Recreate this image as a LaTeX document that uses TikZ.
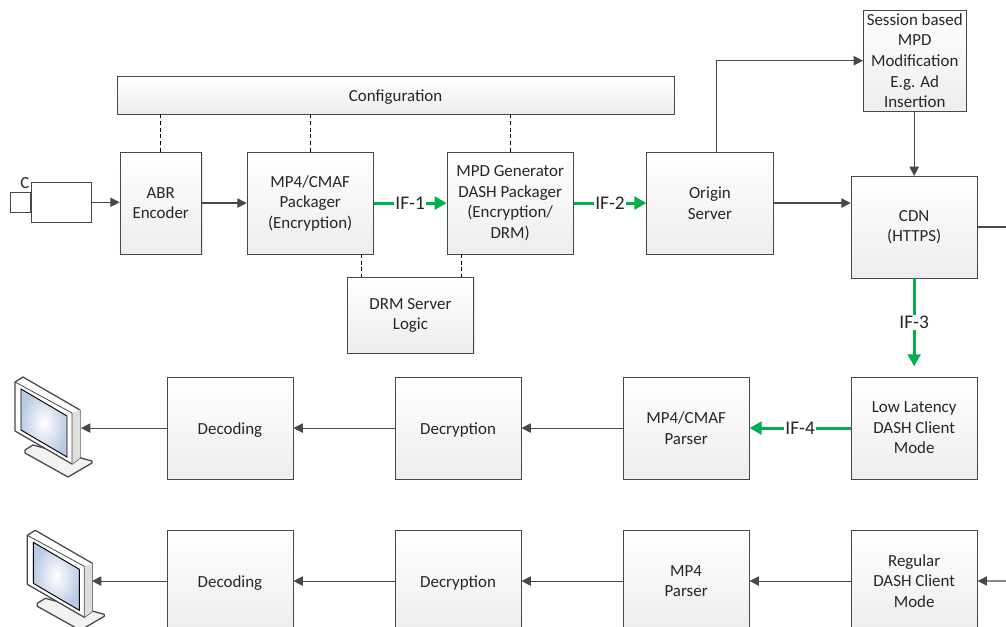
\documentclass[tikz,border=0pt]{standalone}
\usepackage{xcolor}
\usepackage{fontspec}
\setmainfont{Carlito}
\usetikzlibrary{positioning,calc,arrows.meta,shadows}
\definecolor{linegray}{HTML}{484848}
\definecolor{ifgreen}{HTML}{00B050}
\definecolor{screenblue}{HTML}{BCCBE4}

\begin{document}
\begin{tikzpicture}[x=0.75pt, y=-0.75pt, node distance = 75.85pt]
    \tikzstyle{every node} = [font=\fontsize{12.7}{15.4}\selectfont, text=black!85];
    \tikzstyle{box} = [draw=linegray, rectangle, top color=white, bottom color=black!7, align=center, minimum width=94.8pt, minimum height=76.2pt, inner sep=0pt, execute at begin node={\rule{0pt}{12pt}}, drop shadow={shadow xshift=0.8pt, shadow yshift=-0.8pt, fill=black!18, opacity=0.6}];
    \tikzstyle{link} = [draw=linegray, line width=0.85pt, -{Triangle[length=7pt, width=7pt]}];
    \tikzstyle{ctrl} = [draw=black, line width=0.6pt, densely dashed];
    \tikzstyle{iflink} = [draw=ifgreen, line width=2.2pt, -{Triangle[length=9pt, width=9.5pt]}];
    \tikzstyle{iflabel} = [fill=white, inner sep=1pt, font=\fontsize{14.5}{15}\selectfont];
    \useasboundingbox (0,0) rectangle (1006,627);

    % top row
    \node [box, anchor=north west] (MP4P) at (246.7,152) {MP4/CMAF\\Packager\\(Encryption)};
    \node [box, minimum width=61.2pt, left = 33.7pt of MP4P] (ABR) {ABR\\Encoder};
    \node [box, right = 54.8pt of MP4P] (MPD) {MPD Generator\\DASH Packager\\(Encryption/\\DRM)};
    \node [box, right = 54.6pt of MPD] (Origin) {Origin\\Server};
    \node [box, anchor=north west] (CDN) at (850.7,176) {CDN\\(HTTPS)};
    \node [box, anchor=north west, minimum width=77.2pt, minimum height=75.6pt] (Session) at (863,10) {Session based\\MPD\\Modification\\E.g. Ad\\Insertion};
    \node [box, anchor=north west, minimum width=417.5pt, minimum height=28.3pt] (Config) at (117,76) {Configuration};
    \node [box, anchor=north west, minimum height=57pt] (DRM) at (347,277) {DRM Server\\Logic};

    % camera
    \node [draw=linegray, fill=white, anchor=north west, minimum width=45pt, minimum height=30pt, inner sep=0pt] (Cam) at (31,182) {};
    \node [draw=linegray, fill=white, anchor=east, minimum width=15pt, minimum height=15pt, inner sep=0pt] (Lens) at (Cam.west) {};
    \node (CamLabel) at (25,183) {C};

    % client rows
    \node [box, anchor=north west] (LL) at (850.7,377) {Low Latency\\DASH Client\\Mode};
    \node [box, left = of LL] (CMAFP) {MP4/CMAF\\Parser};
    \node [box, left = of CMAFP] (DecrA) {Decryption};
    \node [box, left = of DecrA] (DecA) {Decoding};
    \node [box, anchor=north west] (Reg) at (850.7,530) {Regular\\DASH Client\\Mode};
    \node [box, left = of Reg] (MP4R) {MP4\\Parser};
    \node [box, left = of MP4R] (DecrB) {Decryption};
    \node [box, left = of DecrB] (DecB) {Decoding};

    % monitors
    \foreach \dx/\dy in {0/0, 12.3/153.3} {
        \begin{scope}[shift={(\dx,\dy)}]
            \clip (-20,370) rectangle (110,{627-\dy});
            \draw [linegray, line width=0.95pt, line join=round, fill=black!5] (25,450) -- (33,445) -- (92,461) -- (92,463) -- (68,477) -- (25,453) -- cycle;
            \draw [linegray, line width=0.95pt, line join=round, fill=white] (15,382) -- (23,377) -- (80,410) -- (80,458) -- (72,464) -- (15,431) -- cycle;
            \fill [black!13] (72,413) -- (80,410) -- (80,458) -- (72,464) -- cycle;
            \draw [linegray, line width=0.6pt] (15,382) -- (72,413) -- (72,464);
            \draw [black, line width=0.7pt, inner color=white, outer color=screenblue] (21,389) -- (67,416) -- (67,457) -- (21,430) -- cycle;
        \end{scope}
    }
    \coordinate (MonA) at (81,428);
    \coordinate (MonB) at (92,581);

    % free ends on the right
    \coordinate (CDNout) at (1006,226);
    \coordinate (Regin) at (1006,581);

    \draw [link] (Cam) -- (Cam -| ABR.west);
    \draw [link] (ABR.east |- MP4P) -- (MP4P);
    \draw [link] (Origin) -- (Origin -| CDN.west);
    \draw [link] (Origin.north) ++(4.9pt,0) |- (Session);
    \draw [link] (Session.south -| CDN) -- (CDN);
    \draw [draw=linegray, line width=0.85pt] (CDN.east) -- (CDN.east -| CDNout);

    \foreach \i/\j in {CMAFP/DecrA, DecrA/DecA, Reg/MP4R, MP4R/DecrB, DecrB/DecB}
        \draw [link] (\i) -- (\j);
    \draw [link] (DecA) -- (DecA -| MonA);
    \draw [link] (DecB) -- (DecB -| MonB);
    \draw [link] (Regin) -- (Reg);

    \draw [ctrl] (Config.south -| ABR) -- (ABR);
    \draw [ctrl] (Config.south -| MP4P) -- (MP4P);
    \draw [ctrl] (Config.south -| MPD) -- (MPD);
    \draw [ctrl] (MP4P.south -| 361,0) -- (DRM.north -| 361,0);
    \draw [ctrl] (MPD.south -| 461,0) -- (DRM.north -| 461,0);

    \draw [iflink] (MP4P) -- node [iflabel] {IF-1} (MPD);
    \draw [iflink] (MPD) -- node [iflabel] {IF-2} (Origin);
    \draw [iflink, shorten >=8pt] (CDN) -- node [iflabel, pos=0.45] {IF-3} (LL);
    \draw [iflink] (LL) -- node [iflabel] {IF-4} (CMAFP);
\end{tikzpicture}
\end{document}
